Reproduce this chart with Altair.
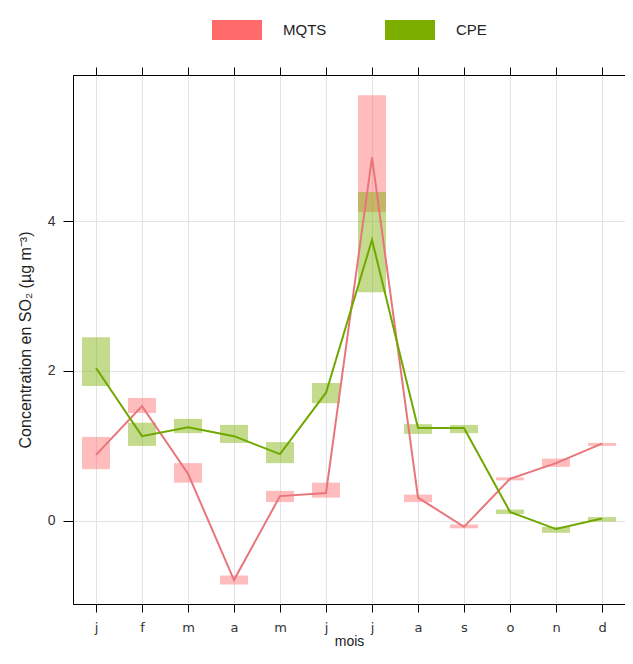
import altair as alt
import pandas as pd

months = ["j", "f", "m", "a", "m", "j", "j", "a", "s", "o", "n", "d"]
sites = ["MQTS", "CPE"]

mqts_mean = [0.88, 1.53, 0.63, -0.79, 0.33, 0.37, 4.85, 0.31, -0.08, 0.56, 0.77, 1.03]
mqts_lower = [0.69, 1.44, 0.51, -0.85, 0.25, 0.31, 4.12, 0.25, -0.10, 0.54, 0.72, 1.00]
mqts_upper = [1.12, 1.64, 0.77, -0.73, 0.40, 0.51, 5.68, 0.35, -0.05, 0.58, 0.83, 1.04]

cpe_mean = [2.04, 1.13, 1.25, 1.13, 0.89, 1.71, 3.75, 1.24, 1.24, 0.12, -0.11, 0.03]
cpe_lower = [1.80, 1.00, 1.17, 1.04, 0.77, 1.57, 3.05, 1.16, 1.17, 0.09, -0.16, -0.01]
cpe_upper = [2.45, 1.31, 1.36, 1.28, 1.05, 1.84, 4.39, 1.29, 1.28, 0.15, -0.08, 0.05]

y_ticks = [0, 2, 4]

fill_colors = ["#FF6B6B", "#7CAE00"]
line_colors = ["#E8757A", "#6FA800"]

rows = []
for site, mean, lo, up in [("MQTS", mqts_mean, mqts_lower, mqts_upper),
                           ("CPE", cpe_mean, cpe_lower, cpe_upper)]:
    for i, m in enumerate(months):
        rows.append({"idx": i + 1, "mois": m, "site": site,
                     "mean": mean[i], "lower": lo[i], "upper": up[i]})
df = pd.DataFrame(rows)

label_expr = "[" + ",".join("'%s'" % m for m in months) + "][datum.value - 1]"
x_vals = list(range(1, len(months) + 1))

xscale = alt.Scale(domain=[0.5, 12.5], nice=False, zero=False, padding=0)
yscale = alt.Scale(domain=[-1.11, 5.95], nice=False, zero=False, padding=0)

bars = alt.Chart(df).mark_bar(size=28, opacity=0.45).encode(
    x=alt.X("idx:Q", scale=xscale,
            axis=alt.Axis(orient="bottom", values=x_vals, labelExpr=label_expr, title="mois",
                          grid=True, tickSize=8, labelPadding=9,
                          labelFont="DejaVu Sans", labelFontSize=13,
                          titleFont="Liberation Sans", titleFontSize=14,
                          titlePadding=0)),
    y=alt.Y("lower:Q", scale=yscale, stack=False,
            axis=alt.Axis(orient="left", values=y_ticks, title="Concentration en SO₂ (µg m⁻³)",
                          grid=True, tickSize=10, labelPadding=8,
                          labelFont="Liberation Sans", labelFontSize=14,
                          titleFont="Liberation Sans", titleFontSize=16,
                          titlePadding=14)),
    y2="upper:Q",
    color=alt.Color("site:N",
                    scale=alt.Scale(domain=sites, range=fill_colors),
                    legend=alt.Legend(title=None, orient="none", direction="horizontal",
                                      legendX=139, legendY=-70, padding=0,
                                      symbolType="M-1,-0.4H1V0.4H-1Z", symbolSize=2500,
                                      symbolStrokeWidth=0, symbolOpacity=1,
                                      labelFont="Liberation Sans", labelFontSize=15,
                                      labelColor="#222", labelOffset=21,
                                      columnPadding=58)),
)

lines = alt.Chart(df).mark_line(strokeWidth=2).encode(
    x=alt.X("idx:Q", scale=xscale,
            axis=alt.Axis(orient="top", values=x_vals, labels=False, title="",
                          grid=False, tickSize=8)),
    y=alt.Y("mean:Q", scale=yscale, axis=None),
    stroke=alt.Stroke("site:N", scale=alt.Scale(domain=sites, range=line_colors),
                      legend=None),
)

chart = alt.layer(bars, lines).resolve_axis(
    x="independent", y="independent"
).properties(
    width=552, height=529,
    autosize=alt.AutoSizeParams(type="none"),
    padding={"left": 65, "top": 67, "right": 0, "bottom": 46},
).configure_view(
    stroke="black", strokeWidth=1
).configure_axis(
    domainColor="black", tickColor="black", gridColor="#E3E3E3", gridWidth=1,
    labelColor="#333333", titleColor="#222222", titleFontWeight="normal",
)

chart.save("out.html", embed_options={"renderer": "svg", "actions": False})
